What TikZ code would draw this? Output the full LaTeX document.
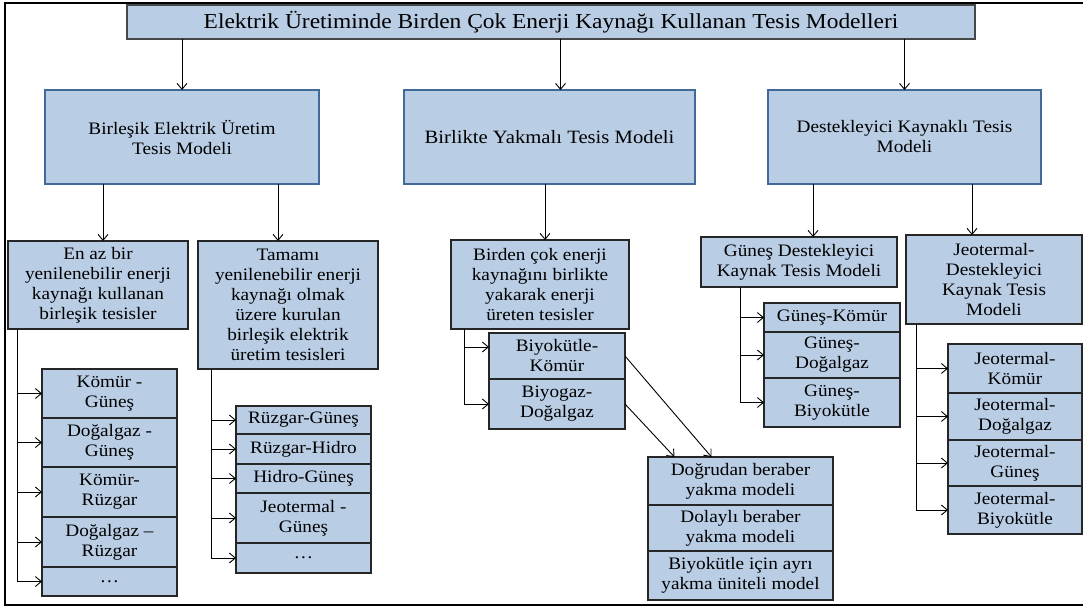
\documentclass[tikz,border=0pt]{standalone}
\usepackage{fontspec}
\setmainfont{Liberation Serif}[FakeStretch=1.1]
\usepackage{tikz}
\usetikzlibrary{positioning,arrows.meta}
\definecolor{boxblue}{HTML}{B9CDE5}
\definecolor{modelline}{HTML}{41699A}
\definecolor{cellline}{HTML}{262626}

\begin{document}
\begin{tikzpicture}[x=1pt,y=-1pt,node distance=0pt,->,>={Straight Barb[length=6pt,width=10pt]},line width=0.9pt]

  % box styles
  \tikzstyle{cell}=[rectangle,draw=cellline,line width=1.3pt,fill=boxblue,inner sep=0pt,outer sep=0pt,align=center,anchor=north west,font=\fontsize{17.5}{20}\selectfont]
  \tikzstyle{titlebox}=[cell,draw=cellline!85,line width=1.6pt,font=\fontsize{21.3}{24}\selectfont]
  \tikzstyle{model}=[cell,draw=modelline,line width=2.6pt,font=\fontsize{17.5}{20}\selectfont]
  \tikzstyle{item}=[cell,minimum width=135pt]

  \useasboundingbox (0,0) rectangle (1083,608);
  \draw[-,line width=2.5pt] (1083,3) -| (5,605) -- (1083,605);

  % top
  \node[titlebox,minimum width=848pt,minimum height=34pt] (title) at (127,5)
    {Elektrik Üretiminde Birden Çok Enerji Kaynağı Kullanan Tesis Modelleri};

  % models
  \node[model,minimum width=274pt,minimum height=94pt] (birlesik) at (45,90) {Birleşik Elektrik Üretim\\Tesis Modeli};
  \node[model,minimum width=291pt,minimum height=94pt,font=\fontsize{18.8}{22}\selectfont] (birlikte) at (404,90) {Birlikte Yakmalı Tesis Modeli};
  \node[model,minimum width=273pt,minimum height=94pt] (destek) at (768,90) {Destekleyici Kaynaklı Tesis\\Modeli};

  % groups
  \node[cell,minimum width=180pt,minimum height=88pt] (enaz) at (8,241) {En az bir\\yenilenebilir enerji\\kaynağı kullanan\\birleşik tesisler};
  \node[cell,minimum width=180pt,minimum height=128pt] (tamami) at (198,241) {Tamamı\\yenilenebilir enerji\\kaynağı olmak\\üzere kurulan\\birleşik elektrik\\üretim tesisleri};
  \node[cell,minimum width=178pt,minimum height=89pt] (birden) at (451,240) {Birden çok enerji\\kaynağını birlikte\\yakarak enerji\\üreten tesisler};
  \node[cell,minimum width=196pt,minimum height=50pt] (gunesd) at (701,237) {Güneş Destekleyici\\Kaynak Tesis Modeli};
  \node[cell,minimum width=176pt,minimum height=89pt] (jeod) at (906,235) {Jeotermal-\\Destekleyici\\Kaynak Tesis\\Modeli};

  % items
  \node[item,minimum height=49pt] (k1) at (42,369) {Kömür -\\Güneş};
  \node[item,minimum height=49pt,below=of k1] (k2) {Doğalgaz -\\Güneş};
  \node[item,minimum height=50pt,below=of k2] (k3) {Kömür-\\Rüzgar};
  \node[item,minimum height=50pt,below=of k3] (k4) {Doğalgaz –\\Rüzgar};
  \node[item,minimum height=29pt,below=of k4] (k5) {\ldots};

  \node[item,minimum height=28pt] (r1) at (236,406) {Rüzgar-Güneş};
  \node[item,minimum height=30pt,below=of r1] (r2) {Rüzgar-Hidro};
  \node[item,minimum height=29pt,below=of r2] (r3) {Hidro-Güneş};
  \node[item,minimum height=50pt,below=of r3] (r4) {Jeotermal -\\Güneş};
  \node[item,minimum height=30pt,below=of r4] (r5) {\ldots};

  \node[item,minimum width=136pt,minimum height=46pt] (bk1) at (489,333) {Biyokütle-\\Kömür};
  \node[item,minimum width=136pt,minimum height=50pt,below=of bk1] (bk2) {Biyogaz-\\Doğalgaz};

  \node[item,minimum width=185pt,minimum height=48pt] (d1) at (648,457) {Doğrudan beraber\\yakma modeli};
  \node[item,minimum width=185pt,minimum height=46pt,below=of d1] (d2) {Dolaylı beraber\\yakma modeli};
  \node[item,minimum width=185pt,minimum height=49pt,below=of d2] (d3) {Biyokütle için ayrı\\yakma üniteli model};

  \node[item,minimum width=136pt,minimum height=29pt] (g1) at (764,303) {Güneş-Kömür};
  \node[item,minimum width=136pt,minimum height=46pt,below=of g1] (g2) {Güneş-\\Doğalgaz};
  \node[item,minimum width=136pt,minimum height=49pt,below=of g2] (g3) {Güneş-\\Biyokütle};

  \node[item,minimum width=134pt,minimum height=49pt] (j1) at (948,344) {Jeotermal-\\Kömür};
  \node[item,minimum width=134pt,minimum height=47pt,below=of j1] (j2) {Jeotermal-\\Doğalgaz};
  \node[item,minimum width=134pt,minimum height=46pt,below=of j2] (j3) {Jeotermal-\\Güneş};
  \node[item,minimum width=134pt,minimum height=48pt,below=of j3] (j4) {Jeotermal-\\Biyokütle};

  % arrows
  \draw (birlesik.north |- title.south) -- (birlesik.north);
  \draw ([xshift=11pt]birlikte.north |- title.south) -- ([xshift=11pt]birlikte.north);
  \draw (destek.north |- title.south) -- (destek.north);

  \draw ([xshift=5pt]enaz.north |- birlesik.south) -- ([xshift=5pt]enaz.north);
  \draw ([xshift=-10pt]tamami.north |- birlesik.south) -- ([xshift=-10pt]tamami.north);
  \draw ([xshift=5pt]birden.north |- birlikte.south) -- ([xshift=5pt]birden.north);
  \draw ([xshift=14pt]gunesd.north |- destek.south) -- ([xshift=14pt]gunesd.north);
  \draw ([xshift=-22pt]jeod.north |- destek.south) -- ([xshift=-22pt]jeod.north);

  \foreach \n in {k1,k2,k3,k4,k5}
    \draw ([xshift=9pt]enaz.south west) |- (\n.west);
  \foreach \n in {r1,r2,r3,r4,r5}
    \draw ([xshift=13pt]tamami.south west) |- (\n.west);
  \draw ([xshift=13pt]birden.south west) |- ([yshift=9pt]bk1.west);
  \draw ([xshift=13pt]birden.south west) |- (bk2.west);
  \foreach \n in {g1,g2,g3}
    \draw ([xshift=39pt]gunesd.south west) |- (\n.west);
  \foreach \n in {j1,j2,j3,j4}
    \draw ([xshift=10pt]jeod.south west) |- (\n.west);

  \draw (bk1.east) -- ([xshift=-29pt]d1.north);
  \draw (bk2.east) -- ([xshift=-66pt]d1.north);

\end{tikzpicture}
\end{document}
